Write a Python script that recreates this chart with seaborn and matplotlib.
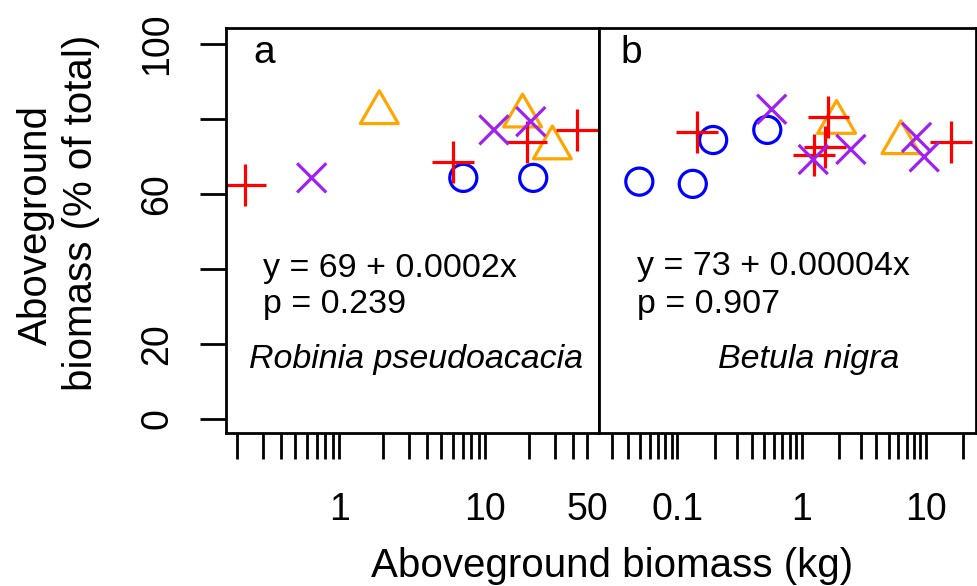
import numpy as np
import pandas as pd
import matplotlib
matplotlib.use("Agg")
import matplotlib.pyplot as plt
import seaborn as sns

# ---------------- data ----------------
species = ["Robinia pseudoacacia", "Betula nigra"]
panel_letters = ["a", "b"]
equations = ["y = 69 + 0.0002x", "y = 73 + 0.00004x"]
p_values = ["p = 0.239", "p = 0.907"]

# Robinia pseudoacacia (panel a)
rob_circle_x = [7.07, 21.3]
rob_circle_y = [64.3, 64.3]
rob_triangle_x = [1.88, 18.0, 28.8]
rob_triangle_y = [81.7, 80.8, 72.3]
rob_plus_x = [0.226, 6.04, 19.2, 42.7]
rob_plus_y = [62.4, 68.6, 73.9, 77.1]
rob_cross_x = [0.647, 11.47, 20.5]
rob_cross_y = [64.3, 77.1, 79.3]

# Betula nigra (panel b)
bet_circle_x = [0.0494, 0.133, 0.194, 0.529]
bet_circle_y = [63.3, 62.7, 74.4, 77.1]
bet_triangle_x = [1.91, 6.29]
bet_triangle_y = [79.1, 73.7]
bet_plus_x = [0.143, 1.64, 1.54, 1.26, 15.9]
bet_plus_y = [76.6, 80.6, 72.6, 70.4, 73.9]
bet_cross_x = [0.574, 1.24, 2.49, 8.41, 9.69]
bet_cross_y = [82.6, 69.2, 71.9, 75.1, 69.9]

# axis tick positions / labels
left_xticks = [0.2, 0.3, 0.4, 0.5, 0.6, 0.7, 0.8, 0.9, 1, 2, 3, 4, 5, 6, 7, 8, 9, 10, 20, 30, 40, 50]
left_xlabels = ["1", "10", "50"]
right_xticks = [0.03, 0.04, 0.05, 0.06, 0.07, 0.08, 0.09, 0.1, 0.2, 0.3, 0.4, 0.5, 0.6, 0.7, 0.8, 0.9,
                1, 2, 3, 4, 5, 6, 7, 8, 9, 10, 20]
right_xlabels = ["0.1", "1", "10"]
yticks = [0, 20, 40, 60, 80, 100]
ylabels = ["0", "20", "", "60", "", "100"]

groups = ["circle", "triangle", "plus", "cross"]

rows = []
for sp, data in [
    (species[0], [(rob_circle_x, rob_circle_y), (rob_triangle_x, rob_triangle_y),
                  (rob_plus_x, rob_plus_y), (rob_cross_x, rob_cross_y)]),
    (species[1], [(bet_circle_x, bet_circle_y), (bet_triangle_x, bet_triangle_y),
                  (bet_plus_x, bet_plus_y), (bet_cross_x, bet_cross_y)]),
]:
    for g, (xs, ys) in zip(groups, data):
        for xv, yv in zip(xs, ys):
            rows.append({"species": sp, "group": g, "x": xv, "y": yv})
df = pd.DataFrame(rows)

# ---------------- style ----------------
sns.set_theme(style="white")
plt.rcParams["font.family"] = ["Liberation Sans", "DejaVu Sans"]
plt.rcParams["text.color"] = "black"
plt.rcParams["axes.labelcolor"] = "black"
plt.rcParams["xtick.color"] = "black"
plt.rcParams["ytick.color"] = "black"

styles = {
    "circle":   dict(marker="o", color="#0000FF", ms=19.5),
    "triangle": dict(marker=(3, 0, 0), color="#FFA500", ms=31.5),
    "plus":     dict(marker="+", color="#FF0000", ms=30),
    "cross":    dict(marker="x", color="#A020F0", ms=21),
}

W, H = 977, 586
fig = plt.figure(figsize=(W / 100, H / 100), dpi=100)
fig.patch.set_facecolor("white")

top, bottom = 28, 433
ax1 = fig.add_axes([226 / W, 1 - bottom / H, 373 / W, (bottom - top) / H])
ax2 = fig.add_axes([599 / W, 1 - bottom / H, 377 / W, (bottom - top) / H])

xlims = [(0.1675, 60.1), (0.0234, 25.3)]
ylim = (-3.73, 104.27)

for i, (ax, sp) in enumerate(zip([ax1, ax2], species)):
    sub = df[df["species"] == sp]
    for g in groups:
        st = styles[g]
        d = sub[sub["group"] == g]
        sns.scatterplot(data=d, x="x", y="y", ax=ax, marker=st["marker"],
                        s=st["ms"] ** 2, color=st["color"], linewidth=2.3, legend=False)
        coll = ax.collections[-1]
        coll.set_facecolor("none")
        coll.set_edgecolor(st["color"])
        coll.set_linewidth(2.3)
    ax.set_xscale("log")
    ax.set_xlim(*xlims[i])
    ax.set_ylim(*ylim)
    ax.set_xlabel("")
    ax.set_ylabel("")
    ax.set_facecolor("white")
    for s in ax.spines.values():
        s.set_visible(True)
        s.set_color("black")
        s.set_linewidth(2.0)

# x ticks
ax1.set_xticks(left_xticks)
ax1.set_xticklabels([(str(t) if str(t) in left_xlabels else "") for t in left_xticks])
ax2.set_xticks(right_xticks)
ax2.set_xticklabels([(str(t) if str(t) in right_xlabels else "") for t in right_xticks])
for ax in [ax1, ax2]:
    ax.minorticks_off()
    ax.tick_params(axis="x", which="major", direction="out", length=18.5, width=2.0,
                   pad=24, labelsize=27, bottom=True, color="black", labelcolor="black")

ax1.set_yticks(yticks)
ax1.set_yticklabels(ylabels, rotation=90, va="center")
ax1.tick_params(axis="y", direction="out", length=18.5, width=2.0, pad=18,
                labelsize=27, left=True, color="black", labelcolor="black")
ax2.set_yticks([])

# ---------------- text ----------------
def ftext(px, py, s, **kw):
    fig.text(px / W, 1 - py / H, s, color="black", **kw)

ftext(253, 63, panel_letters[0], fontsize=28, ha="left", va="baseline")
ftext(620, 63, panel_letters[1], fontsize=28, ha="left", va="baseline")

ftext(263, 277, equations[0], fontsize=24.5, ha="left", va="baseline")
ftext(263, 313, p_values[0], fontsize=24.5, ha="left", va="baseline")
ftext(416, 368, species[0], fontsize=24.5, ha="center", va="baseline", style="italic")

ftext(637, 275, equations[1], fontsize=24.5, ha="left", va="baseline")
ftext(637, 312.7, p_values[1], fontsize=24.5, ha="left", va="baseline")
ftext(809, 368, species[1], fontsize=24.5, ha="center", va="baseline", style="italic")

ftext(612, 576.7, "Aboveground biomass (kg)", fontsize=29, ha="center", va="baseline")
ftext(46.7, 225, "Aboveground", fontsize=29, rotation=90, rotation_mode="anchor",
      ha="center", va="baseline")
ftext(92, 212.5, "biomass (% of total)", fontsize=29, rotation=90, rotation_mode="anchor",
      ha="center", va="baseline")

fig.savefig("out.png", dpi=100, facecolor="white")
